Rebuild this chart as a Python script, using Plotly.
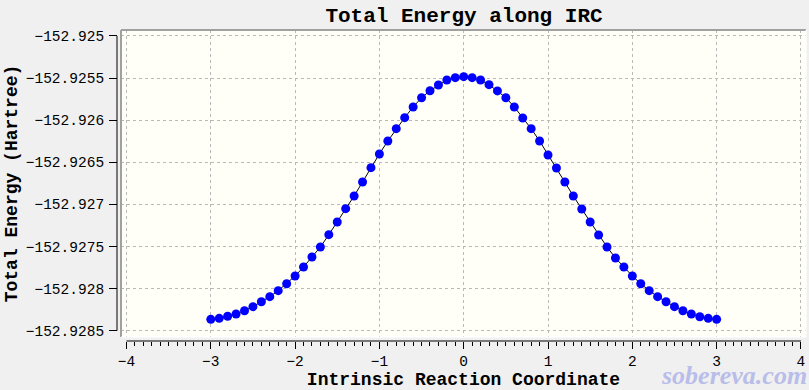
import plotly.graph_objects as go

irc_x = [-3.0, -2.9, -2.8, -2.7, -2.6, -2.5, -2.4, -2.3, -2.2, -2.1,
         -2.0, -1.9, -1.8, -1.7, -1.6, -1.5, -1.4, -1.3, -1.2, -1.1,
         -1.0, -0.9, -0.8, -0.7, -0.6, -0.5, -0.4, -0.3, -0.2, -0.1,
         0.0, 0.1, 0.2, 0.3, 0.4, 0.5, 0.6, 0.7, 0.8, 0.9,
         1.0, 1.1, 1.2, 1.3, 1.4, 1.5, 1.6, 1.7, 1.8, 1.9,
         2.0, 2.1, 2.2, 2.3, 2.4, 2.5, 2.6, 2.7, 2.8, 2.9, 3.0]

energy = [-152.928365, -152.928353, -152.928329, -152.928302, -152.928263,
          -152.928215, -152.928156, -152.928096, -152.928025, -152.927942,
          -152.927850, -152.927744, -152.927625, -152.927506, -152.927360,
          -152.927209, -152.927051, -152.926900, -152.926734, -152.926564,
          -152.926401, -152.926247, -152.926101, -152.925970, -152.925843,
          -152.925733, -152.925650, -152.925582, -152.925523, -152.925495,
          -152.925483,
          -152.925495, -152.925523, -152.925578, -152.925652, -152.925733,
          -152.925843, -152.925974, -152.926101, -152.926247, -152.926413,
          -152.926568, -152.926734, -152.926900, -152.927055, -152.927209,
          -152.927363, -152.927506, -152.927637, -152.927744, -152.927850,
          -152.927942, -152.928025, -152.928096, -152.928156, -152.928215,
          -152.928263, -152.928302, -152.928334, -152.928353, -152.928365]

x_tickvals = [-4, -3, -2, -1, 0, 1, 2, 3, 4]
x_ticktext = ["\u22124", "\u22123", "\u22122", "\u22121", "0", "1", "2", "3", "4"]
y_tickvals = [-152.925, -152.9255, -152.926, -152.9265, -152.927,
              -152.9275, -152.928, -152.9285]
y_ticktext = ["\u2212152.925", "\u2212152.9255", "\u2212152.926", "\u2212152.9265",
              "\u2212152.927", "\u2212152.9275", "\u2212152.928", "\u2212152.9285"]

W, H = 809, 390
ML, MR, MT, MB = 117, 3, 30, 49
pw, ph = W - ML - MR, H - MT - MB

mono = "Liberation Mono"

fig = go.Figure()
fig.add_trace(go.Scatter(
    x=irc_x, y=energy, mode="lines+markers",
    line=dict(color="black", width=1),
    marker=dict(color="#0000ff", size=9, line=dict(width=0)),
    showlegend=False, hoverinfo="x+y",
))

grid = dict(showgrid=True, gridcolor="#b8b8b8", gridwidth=1, griddash="dot")

fig.update_layout(
    width=W, height=H,
    margin=dict(l=ML, r=MR, t=MT, b=MB, autoexpand=False),
    paper_bgcolor="#f0f0f0",
    plot_bgcolor="#fffff7",
    title=dict(text="<b>Total Energy along IRC</b>", x=464 / W, xref="container",
               xanchor="center", y=1 - 15 / H, yanchor="middle",
               font=dict(family=mono, size=21, color="black")),
    xaxis=dict(
        domain=[4 / pw, 1], anchor="free", position=0, automargin=False,
        range=[-4.065, 4.06], tickvals=x_tickvals, ticktext=x_ticktext,
        ticks="outside", ticklen=7, tickwidth=1, tickcolor="black",
        minor=dict(dtick=0.1, ticks="outside", ticklen=4, tickcolor="black",
                   showgrid=False),
        showline=False, zeroline=False,
        tickfont=dict(family=mono, size=14.5, color="black"),
        title=dict(text="<b>Intrinsic Reaction Coordinate</b>",
                   font=dict(family=mono, size=18, color="black"), standoff=2),
        **grid,
    ),
    yaxis=dict(
        domain=[4 / ph, 1], anchor="free", position=0, automargin=False,
        range=[-152.928575, -152.924929], tickvals=y_tickvals, ticktext=y_ticktext,
        ticks="outside", ticklen=8, tickwidth=1, tickcolor="black",
        showline=False, zeroline=False,
        tickfont=dict(family=mono, size=14.5, color="black"),
        ticklabelstandoff=2,
        title=dict(text="<b>Total Energy (Hartree)</b>",
                   font=dict(family=mono, size=18, color="black"), standoff=2),
        **grid,
    ),
)

# frame (sunken look): dark top/left edges, light bottom/right edges
fig.add_shape(type="line", xref="x domain", yref="y domain", x0=0, x1=1, y0=1, y1=1,
              line=dict(color="#a0a0a0", width=2), layer="above")
fig.add_shape(type="line", xref="x domain", yref="y domain", x0=0, x1=0, y0=0, y1=1,
              line=dict(color="#a0a0a0", width=2), layer="above")
fig.add_shape(type="line", xref="x domain", yref="y domain", x0=0, x1=1, y0=0, y1=0,
              line=dict(color="#ffffff", width=1), layer="above")
fig.add_shape(type="line", xref="x domain", yref="y domain", x0=1, x1=1, y0=0, y1=1,
              line=dict(color="#ffffff", width=1), layer="above")

# axis lines spanning only the tick range
fig.add_shape(type="line", xref="x", yref="paper", x0=min(x_tickvals), x1=max(x_tickvals),
              y0=0, y1=0, line=dict(color="black", width=1))
fig.add_shape(type="line", xref="paper", yref="y", x0=0, x1=0,
              y0=min(y_tickvals), y1=max(y_tickvals), line=dict(color="black", width=1))

# watermark
fig.add_annotation(text="<b><i>sobereva.com</i></b>", xref="paper", yref="paper",
                   x=(734 - ML) / pw, y=-(375 - (H - MB)) / ph, xanchor="center",
                   yanchor="middle", showarrow=False,
                   font=dict(family="Liberation Serif", size=26, color="#b9bde9"))

fig.write_html(
    "out.html",
    config={"displayModeBar": False},
    post_script="document.body.style.margin='0';document.body.style.overflow='hidden';"
                "document.documentElement.style.background='#f0f0f0';",
)
